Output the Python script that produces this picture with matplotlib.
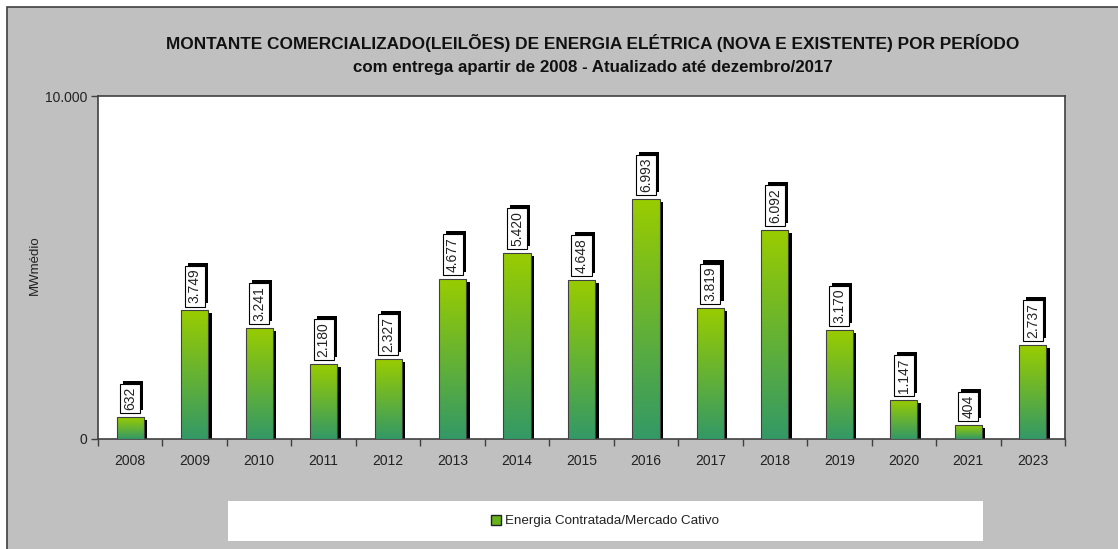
import numpy as np
import matplotlib
matplotlib.use("Agg")
import matplotlib.pyplot as plt
from matplotlib import patheffects
from matplotlib.patches import Rectangle, Patch
from matplotlib.colors import LinearSegmentedColormap
from matplotlib.transforms import offset_copy

# montante por ano de entrega (MWmédio)
anos = ["2008", "2009", "2010", "2011", "2012", "2013", "2014", "2015",
        "2016", "2017", "2018", "2019", "2020", "2021", "2023"]
montante = [632, 3749, 3241, 2180, 2327, 4677, 5420, 4648,
            6993, 3819, 6092, 3170, 1147, 404, 2737]
serie = "Energia Contratada/Mercado Cativo"

plt.rcParams['font.family'] = ['Liberation Sans', 'DejaVu Sans']

W, H = 1118, 549
fig = plt.figure(figsize=(W / 100, H / 100), dpi=100, facecolor="white")

# fundo cinza da área do gráfico
fig.patches.append(Rectangle((7 / W, -0.02), 1.05, (H - 7) / H + 0.02,
                             transform=fig.transFigure, facecolor="#c0c0c0",
                             edgecolor="#404040", linewidth=1.2, zorder=-2))

ax = fig.add_axes([98 / W, 1 - 439 / H, (1065 - 98) / W, (439 - 96) / H])
ax.set_facecolor("white")
for s in ax.spines.values():
    s.set_color("#404040")
    s.set_linewidth(1.2)

x = np.arange(len(anos))
largura = 0.42
degrade = LinearSegmentedColormap.from_list("verde", ["#339966", "#99cc00"])
grad = np.linspace(0, 1, 256).reshape(-1, 1)

# sombra preta deslocada
sombra = offset_copy(ax.transData, fig=fig, x=3.5, y=-3, units="dots")
ax.bar(x, montante, width=largura, color="black", transform=sombra, zorder=2)

barras = ax.bar(x, montante, width=largura, color="none",
                edgecolor="#404040", linewidth=0.8, zorder=4)
for b in barras:
    x0, w, h = b.get_x(), b.get_width(), b.get_height()
    im = ax.imshow(grad, cmap=degrade, origin="lower", aspect="auto",
                   extent=[x0, x0 + w, 0, h], zorder=3, interpolation="bicubic")
    im.set_clip_path(b)

# rótulos com o valor
for xi, v in zip(x, montante):
    txt = f"{v:,}".replace(",", ".")
    t = ax.annotate(txt, (xi, v), xytext=(0, 5), textcoords="offset points",
                    rotation=90, ha="center", va="bottom", fontsize=10,
                    color="#222222", zorder=6,
                    bbox=dict(boxstyle="square,pad=0.22", facecolor="white",
                              edgecolor="black", linewidth=0.8))
    t.get_bbox_patch().set_path_effects([
        patheffects.SimplePatchShadow(offset=(2.2, 2.2), shadow_rgbFace="black", alpha=1),
        patheffects.Normal()])

ax.set_xlim(-0.5, len(anos) - 0.5)
ax.set_ylim(0, 10000)
ax.set_yticks([0, 10000])
ax.set_yticklabels(["0", "10.000"])
ax.set_xticks(x)
ax.set_xticklabels(anos)
ax.set_xticks(np.arange(-0.5, len(anos)), minor=True)
ax.tick_params(axis="x", which="major", length=0, pad=11, labelsize=10, colors="#222222")
ax.tick_params(axis="x", which="minor", length=5, width=1, color="#404040")
ax.tick_params(axis="y", length=5, width=1, color="#404040", labelsize=10,
               labelcolor="#222222", pad=3)

fig.text(35 / W, 1 - 265 / H, "MWmédio", rotation=90, ha="center", va="center",
         fontsize=9.5, color="#222222")

fig.text(593 / W, 1 - 43 / H,
         "MONTANTE COMERCIALIZADO(LEILÕES) DE ENERGIA ELÉTRICA (NOVA E EXISTENTE) POR PERÍODO",
         ha="center", va="center", fontsize=12.4, fontweight="bold", color="#111111")
fig.text(593 / W, 1 - 67 / H,
         "com entrega apartir de 2008 - Atualizado até dezembro/2017",
         ha="center", va="center", fontsize=12.2, fontweight="bold", color="#111111")

# caixa da legenda
fig.patches.append(Rectangle((228 / W, 1 - 541 / H), (983 - 228) / W, 40 / H,
                             transform=fig.transFigure, facecolor="white",
                             edgecolor="none", zorder=-1))
fig.legend(handles=[Patch(facecolor="#66b31a", edgecolor="#222222", linewidth=1)],
           labels=[serie], loc="center", bbox_to_anchor=(605 / W, 1 - 521 / H),
           frameon=False, fontsize=9.6, handlelength=0.75, handleheight=0.75,
           handletextpad=0.3, labelcolor="#222222")

fig.savefig("out.png", dpi=100, facecolor=fig.get_facecolor())
